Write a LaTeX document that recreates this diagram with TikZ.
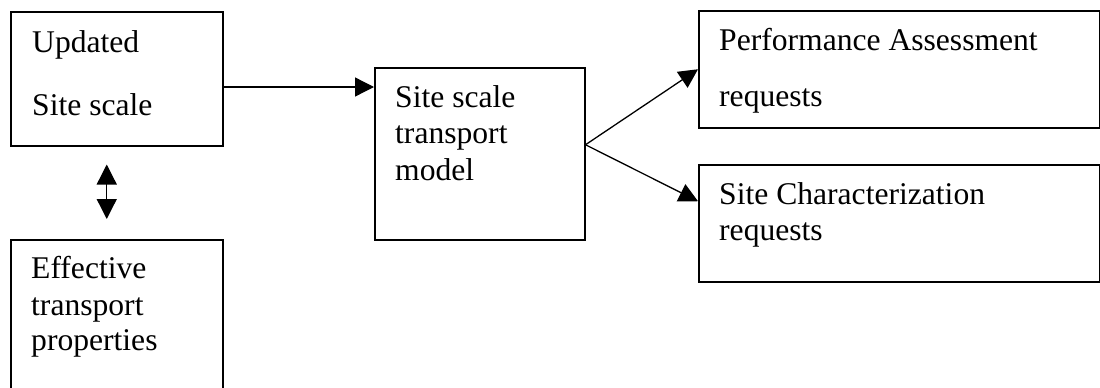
\documentclass[tikz,border=0pt]{standalone}
\usepackage{fontspec}
\setmainfont{Liberation Serif}
\usetikzlibrary{arrows.meta}
\begin{document}
\begin{tikzpicture}[x=1pt,y=-1pt,
  box/.style={draw, line width=1.5pt, rectangle, inner sep=0pt, anchor=north west},
  lbl/.style={anchor=base west, inner sep=0pt, font=\fontsize{31.6}{36}\selectfont},
  conn/.style={line width=1.3pt, -{Triangle[length=19pt,width=19pt]}},
  dbl/.style={line width=1.3pt, {Triangle[length=20pt,width=20pt]}-{Triangle[length=20pt,width=20pt]}},
]
\useasboundingbox (0,0) rectangle (1100,388);
\clip (0,0) rectangle (1100,388);
\fill[white] (0,0) rectangle (1100,388);
% boxes
\node[box, minimum width=212pt, minimum height=134pt] (b1) at (10,11) {};
\node[box, minimum width=212pt, minimum height=170pt] (b2) at (10,239) {};
\node[box, minimum width=210pt, minimum height=172pt] (b3) at (374,67) {};
\node[box, minimum width=401pt, minimum height=117pt] (b4) at (698,10) {};
\node[box, minimum width=401pt, minimum height=117pt] (b5) at (698,164) {};
% texts
\node[lbl] (t1a) at (32,52) {Updated};
\node[lbl] (t1b) at (32,115) {Site scale};
\node[lbl] (t2a) at (31,278) {Effective};
\node[lbl] (t2b) at (31,315) {transport};
\node[lbl] (t2c) at (31,350) {properties};
\node[lbl] (t3a) at (395,107) {Site scale};
\node[lbl] (t3b) at (395,143) {transport};
\node[lbl] (t3c) at (395,180) {model};
\node[lbl] (t4a) at (719,50) {Performance Assessment};
\node[lbl] (t4b) at (719,106) {requests};
\node[lbl] (t5a) at (719,204) {Site Characterization};
\node[lbl] (t5b) at (719,240) {requests};
% connectors
\coordinate (ya) at (0,87);
\draw[conn] (b1.east |- ya) -- (b3.west |- ya);
\draw[dbl] ([xshift=-10pt,yshift=-18pt]b1.south) -- ([xshift=-10pt,yshift=20pt]b2.north);
\coordinate (c3) at ([yshift=9pt]b3.east);
\draw[conn] (c3) -- (b4.west);
\draw[conn] (c3) -- ([yshift=22pt]b5.west);
\end{tikzpicture}
\end{document}
